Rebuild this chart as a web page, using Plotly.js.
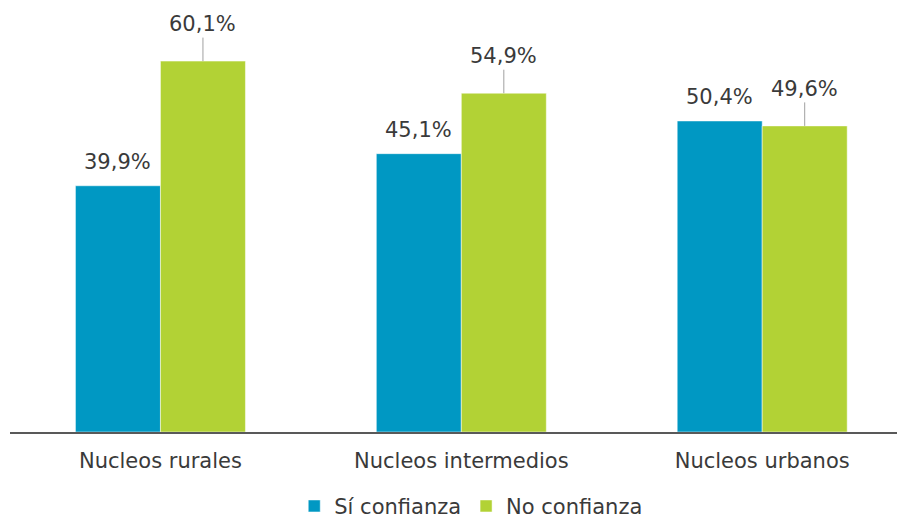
<!DOCTYPE html>
<html>
<head>
<meta charset="utf-8">
<script src="https://cdn.plot.ly/plotly-3.0.1.min.js"></script>
<style>html,body{margin:0;padding:0;background:#fff}#chart{width:897px;height:520px}</style>
</head>
<body>
<div id="chart"></div>
<script>
const categories = ["Nucleos rurales", "Nucleos intermedios", "Nucleos urbanos"];
const seriesNames = ["Sí confianza", "No confianza"];
const siConfianza = [39.9, 45.1, 50.4];
const noConfianza = [60.1, 54.9, 49.6];

const FONT = "Verdana, 'DejaVu Sans', sans-serif";
const FS = 21;
const TXT = "#3a3a3a";
const BLUE = "#0098C3";
const GREEN = "#B2D235";

const traces = [
  {type: "bar", name: seriesNames[0], x: categories, y: siConfianza,
   marker: {color: BLUE, line: {color: "#ffffff", width: 0.5}}, hoverinfo: "skip"},
  {type: "bar", name: seriesNames[1], x: categories, y: noConfianza,
   marker: {color: GREEN, line: {color: "#ffffff", width: 0.5}}, hoverinfo: "skip"}
];

const fmt = v => v.toFixed(1).replace(".", ",") + "%";
const half = 42.5;
const annotations = [];
categories.forEach((c, i) => {
  annotations.push({x: c, y: siConfianza[i], xref: "x", yref: "y", xshift: -half,
    text: fmt(siConfianza[i]), showarrow: false, yanchor: "bottom", yshift: 10,
    font: {family: FONT, size: FS, color: TXT}});
  annotations.push({x: c, y: noConfianza[i], xref: "x", yref: "y", xshift: half,
    text: fmt(noConfianza[i]), showarrow: true, arrowhead: 0, arrowwidth: 1,
    arrowcolor: "#a0a0a0", ax: 0, ay: -37, standoff: 0,
    font: {family: FONT, size: FS, color: TXT}});
});

const layout = {
  width: 897, height: 520,
  margin: {l: 10, r: 0, t: 0, b: 88, autoexpand: false},
  paper_bgcolor: "#fff", plot_bgcolor: "#fff",
  barmode: "group", bargap: 0.435, bargroupgap: 0,
  separators: ",.",
  font: {family: FONT, size: FS, color: TXT},
  xaxis: {type: "category", range: [-0.5, 2.448], showline: true, linecolor: "#595959",
    linewidth: 1.5, ticks: "", showgrid: false, zeroline: false, ticklabelstandoff: 9,
    automargin: false,
    tickfont: {family: FONT, size: FS, color: TXT}, fixedrange: true},
  yaxis: {range: [0, 70], visible: false, showgrid: false, zeroline: false, fixedrange: true},
  showlegend: true,
  legend: {orientation: "h", x: 0.52, xanchor: "center", y: -0.172, yanchor: "middle",
    font: {family: FONT, size: FS, color: TXT}, itemwidth: 30, tracegroupgap: 0},
  annotations: annotations
};

Plotly.newPlot("chart", traces, layout, {displayModeBar: false, staticPlot: true});
</script>
</body>
</html>
